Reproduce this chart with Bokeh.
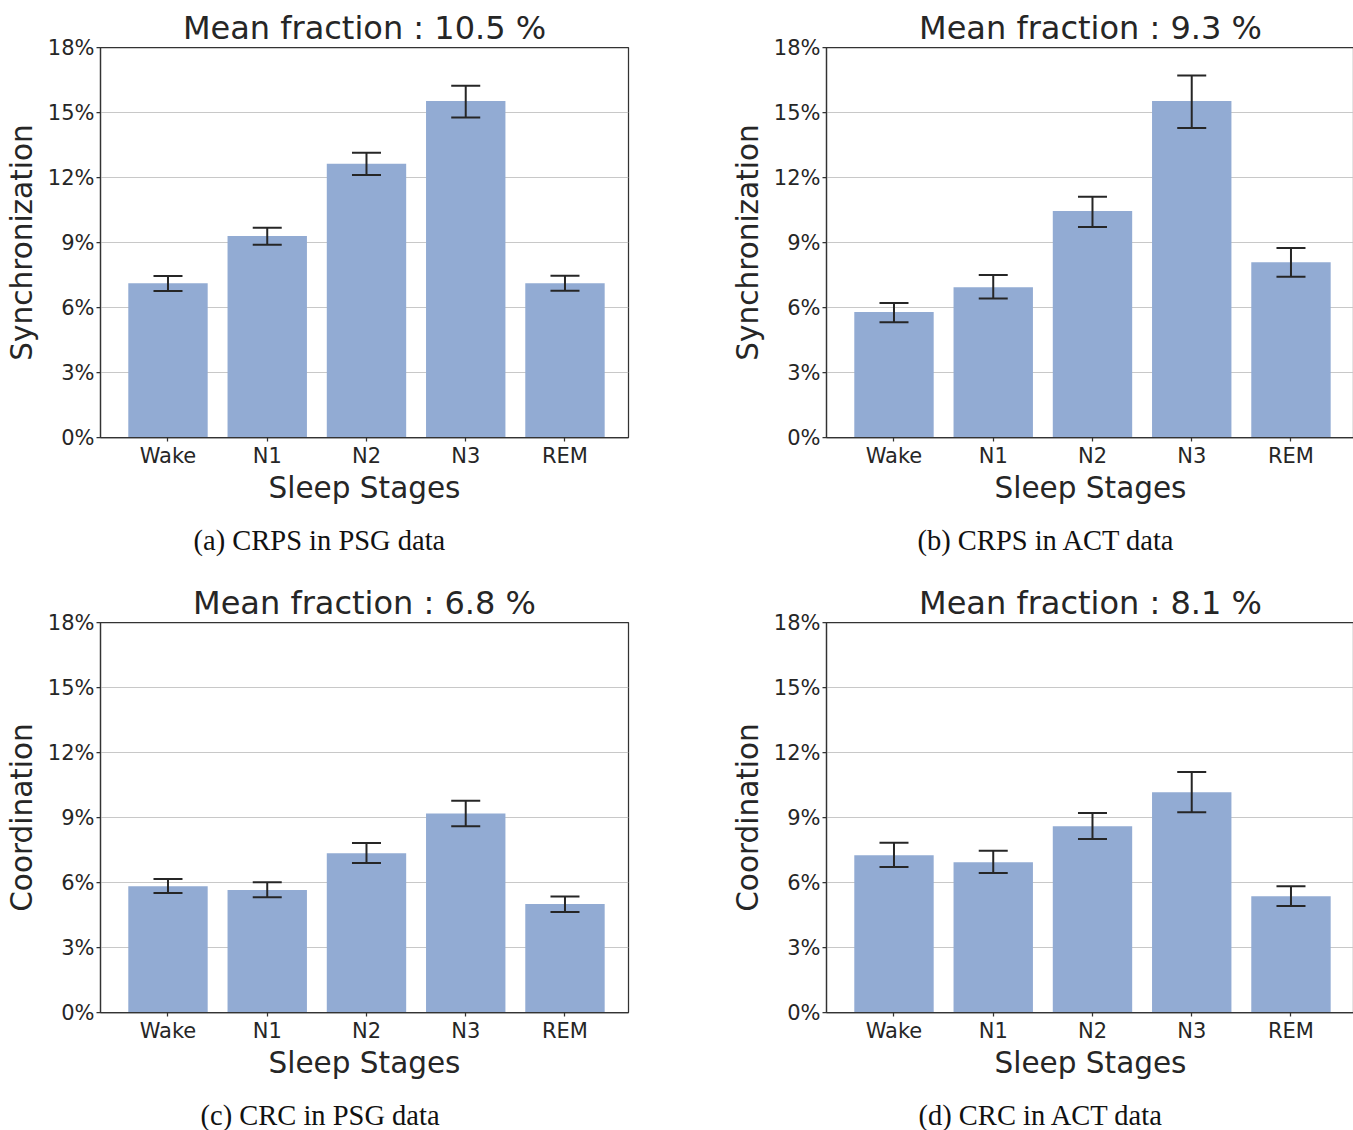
from bokeh.plotting import figure
from bokeh.layouts import column, row
from bokeh.models import Range1d, FixedTicker, Whisker, TeeHead, ColumnDataSource, Title
from bokeh.embed import file_html
from bokeh.resources import INLINE

stages = ["Wake", "N1", "N2", "N3", "REM"]
y_ticks = [0, 3, 6, 9, 12, 15, 18]
y_tick_labels = ["0%", "3%", "6%", "9%", "12%", "15%", "18%"]

# (a) CRPS in PSG data
crps_psg = [7.12, 9.30, 12.63, 15.53, 7.12]
crps_psg_lo = [6.76, 8.90, 12.11, 14.77, 6.77]
crps_psg_hi = [7.45, 9.68, 13.14, 16.24, 7.47]
# (b) CRPS in ACT data
crps_act = [5.79, 6.94, 10.45, 15.53, 8.09]
crps_act_lo = [5.32, 6.41, 9.71, 14.29, 7.42]
crps_act_hi = [6.21, 7.50, 11.11, 16.71, 8.75]
# (c) CRC in PSG data
crc_psg = [5.83, 5.65, 7.35, 9.19, 5.01]
crc_psg_lo = [5.52, 5.32, 6.90, 8.60, 4.64]
crc_psg_hi = [6.16, 6.01, 7.82, 9.77, 5.35]
# (d) CRC in ACT data
crc_act = [7.26, 6.93, 8.60, 10.16, 5.37]
crc_act_lo = [6.72, 6.44, 8.01, 9.24, 4.92]
crc_act_hi = [7.84, 7.46, 9.21, 11.10, 5.83]

titles = ["Mean fraction : 10.5 %", "Mean fraction : 9.3 %",
          "Mean fraction : 6.8 %", "Mean fraction : 8.1 %"]
ylabels = ["Synchronization", "Synchronization", "Coordination", "Coordination"]
captions = ["(a) CRPS in PSG data", "(b) CRPS in ACT data",
            "(c) CRC in PSG data", "(d) CRC in ACT data"]

TXT = "#262626"
BAR = "#92abd3"
FONT = "DejaVu Sans"


def panel(vals, lo, hi, title, ylabel, caption, border_right, border_bottom, cap_standoff, cap_offset):
    x = list(range(len(stages)))
    src = ColumnDataSource(dict(x=x, top=vals, lower=lo, upper=hi))
    p = figure(frame_width=528, frame_height=390, output_backend="svg", toolbar_location=None,
               x_range=Range1d(-0.68, 4.64), y_range=Range1d(0, 18),
               min_border_left=100, min_border_right=border_right,
               min_border_top=47, min_border_bottom=border_bottom)
    p.title.text = title
    p.title.align = "center"
    p.title.text_font = FONT
    p.title.text_font_size = "32px"
    p.title.text_font_style = "normal"
    p.title.text_color = TXT
    p.title.standoff = 2

    p.vbar(x="x", top="top", width=0.8, bottom=0, source=src,
           fill_color=BAR, line_color=None)
    w = Whisker(base="x", lower="lower", upper="upper", source=src,
                line_color=TXT, line_width=2, level="overlay",
                upper_head=TeeHead(size=29, line_color=TXT, line_width=2),
                lower_head=TeeHead(size=29, line_color=TXT, line_width=2))
    p.add_layout(w)

    p.xaxis.ticker = FixedTicker(ticks=x)
    p.xaxis.major_label_overrides = {i: s for i, s in enumerate(stages)}
    p.yaxis.ticker = FixedTicker(ticks=y_ticks)
    p.yaxis.major_label_overrides = {t: l for t, l in zip(y_ticks, y_tick_labels)}
    p.xaxis.minor_tick_line_color = None
    p.yaxis.minor_tick_line_color = None
    for ax in (p.xaxis[0], p.yaxis[0]):
        ax.major_tick_in = 0
        ax.major_tick_out = 4
        ax.major_tick_line_color = "#333333"
        ax.major_tick_line_width = 1.25
        ax.axis_line_color = "#333333"
        ax.axis_line_width = 1.25
        ax.major_label_text_font = FONT
        ax.major_label_text_font_size = "21px"
        ax.major_label_text_color = TXT
        ax.axis_label_text_font = FONT
        ax.axis_label_text_font_size = "29.5px"
        ax.axis_label_text_font_style = "normal"
        ax.axis_label_text_color = TXT
    p.xaxis.axis_label = "Sleep Stages"
    p.yaxis.axis_label = ylabel
    p.xaxis.major_label_standoff = 2
    p.yaxis.major_label_standoff = 2
    p.xaxis.axis_label_standoff = 0
    p.yaxis.axis_label_standoff = 6

    p.xgrid.grid_line_color = None
    p.ygrid.grid_line_color = "#c8c8c8"
    p.ygrid.grid_line_width = 1.2

    p.outline_line_color = "#333333"
    p.outline_line_width = 1.25
    p.outline_line_alpha = 1.0

    cap = Title(text=caption, align="left", offset=cap_offset, text_font="Liberation Serif",
                text_font_size="28.5px", text_font_style="normal", text_color="#111111",
                standoff=cap_standoff)
    p.add_layout(cap, "below")
    return p


pa = panel(crps_psg, crps_psg_lo, crps_psg_hi, titles[0], ylabels[0], captions[0], 98, 138, 30, 93)
pb = panel(crps_act, crps_act_lo, crps_act_hi, titles[1], ylabels[1], captions[1], 0, 138, 30, 91)
pc = panel(crc_psg, crc_psg_lo, crc_psg_hi, titles[2], ylabels[2], captions[2], 98, 118, 30, 100)
pd_ = panel(crc_act, crc_act_lo, crc_act_hi, titles[3], ylabels[3], captions[3], 0, 118, 30, 92)

layout = column(row(pa, pb, spacing=0), row(pc, pd_, spacing=0), spacing=0)

open("out.html", "w").write(file_html(layout, INLINE))
